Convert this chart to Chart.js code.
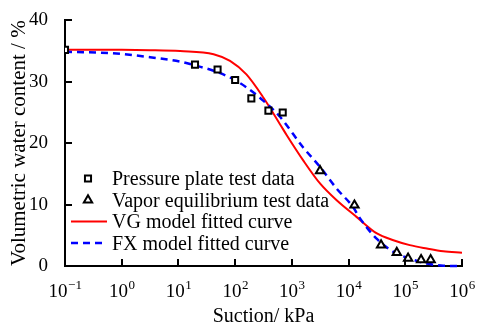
<!DOCTYPE html>
<html><head><meta charset="utf-8">
<script src="https://cdn.jsdelivr.net/npm/chart.js@4.4.0/dist/chart.umd.min.js"></script>
<style>html,body{margin:0;padding:0;background:#fff}#wrap{width:479px;height:329px;position:relative}</style>
</head><body><div id="wrap"><canvas id="c" width="479" height="329" style="width:479px;height:329px"></canvas></div>
<script>
// Data
const pressureSuction = [0.1, 19.6, 49, 100, 193, 386, 690];
const pressureWater   = [35.2, 32.8, 32.0, 30.3, 27.3, 25.3, 25.0];
const vaporSuction = [3140, 12700, 37400, 70800, 112000, 190000, 280000];
const vaporWater   = [15.5, 9.9, 3.4, 2.2, 1.25, 1.0, 1.0];
const vgSuction = [0.1, 1, 3.16, 10.7, 41.7, 81.3, 158, 316, 617, 813, 1585, 3162, 6166, 13800, 31600, 61700, 120000, 240000, 468000, 1000000];
const vgWater   = [35.2, 35.2, 35.15, 35.0, 34.5, 33.4, 31.2, 27.4, 23.1, 21.3, 17.2, 13.4, 10.7, 8.0, 5.3, 4.2, 3.4, 2.85, 2.4, 2.15];
const fxSuction = [0.1, 0.81, 3.16, 10.7, 20.9, 41.7, 81.3, 158, 316, 617, 1585, 3162, 6166, 12000, 15800, 31600, 61700, 120000, 240000, 468000, 1000000];
const fxWater   = [34.9, 34.6, 34.0, 33.3, 32.6, 31.8, 30.7, 29.1, 26.9, 24.3, 19.3, 16.1, 12.6, 9.6, 7.8, 4.4, 2.3, 1.2, 0.4, 0.05, 0];
const xTickValues = [0.1, 1, 10, 100, 1000, 10000, 100000, 1000000];
const xTickExponents = ['\u22121', '0', '1', '2', '3', '4', '5', '6'];
const yTickValues = [0, 10, 20, 30, 40];
const seriesNames = ['Pressure plate test data', 'Vapor equilibrium test data', 'VG model fitted curve', 'FX model fitted curve'];

const FONT = '"Liberation Serif", "Times New Roman", serif';
const pts = (xs, ys) => xs.map((x, i) => ({x, y: ys[i]}));

const innerTicks = {
  id: 'innerTicks',
  afterDraw(chart) {
    const ctx = chart.ctx, xs = chart.scales.x, ys = chart.scales.y;
    ctx.save();
    ctx.strokeStyle = '#000'; ctx.lineWidth = 2;
    xTickValues.forEach(v => {
      const px = Math.round(xs.getPixelForValue(v));
      ctx.beginPath(); ctx.moveTo(px, xs.top); ctx.lineTo(px, xs.top - 7); ctx.stroke();
    });
    yTickValues.forEach(v => {
      const py = Math.round(ys.getPixelForValue(v));
      ctx.beginPath(); ctx.moveTo(ys.right, py); ctx.lineTo(ys.right + 7, py); ctx.stroke();
    });
    // x tick labels: "10" with superscript exponent
    ctx.fillStyle = '#000';
    ctx.textBaseline = 'alphabetic';
    const baseY = xs.top + 31;
    xTickValues.forEach((v, i) => {
      const px = xs.getPixelForValue(v);
      ctx.font = '19px ' + FONT;
      const wb = ctx.measureText('10').width;
      ctx.font = '13px ' + FONT;
      const we = ctx.measureText(xTickExponents[i]).width;
      const start = px - (wb + we) / 2;
      ctx.font = '19px ' + FONT;
      ctx.textAlign = 'left';
      ctx.fillText('10', start, baseY);
      ctx.font = '13px ' + FONT;
      ctx.fillText(xTickExponents[i], start + wb + 0.5, baseY - 8);
    });
    ctx.restore();
  }
};

const legendPlugin = {
  id: 'innerLegend',
  afterDraw(chart) {
    const ctx = chart.ctx;
    const x0 = 71, x1 = 107, mx = 88, tx = 112;
    const baselines = [185, 206.5, 228, 249.5];
    ctx.save();
    ctx.font = '20px ' + FONT;
    ctx.fillStyle = '#000';
    ctx.textBaseline = 'alphabetic';
    chart.data.datasets.forEach((ds, i) => {
      const y = baselines[i] - 6.5;
      if (ds.showLine) {
        ctx.save();
        ctx.strokeStyle = ds.borderColor; ctx.lineWidth = ds.borderWidth;
        ctx.setLineDash(ds.borderDash || []);
        ctx.beginPath(); ctx.moveTo(x0, y); ctx.lineTo(x1, y); ctx.stroke();
        ctx.restore();
      } else {
        ctx.save();
        ctx.strokeStyle = ds.pointBorderColor; ctx.fillStyle = ds.pointBackgroundColor;
        ctx.lineWidth = ds.pointBorderWidth;
        Chart.helpers.drawPoint(ctx, {pointStyle: ds.pointStyle, radius: ds.pointRadius, borderWidth: ds.pointBorderWidth, rotation: 0}, mx, y);
        ctx.restore();
      }
      ctx.fillText(ds.label, tx, baselines[i]);
    });
    ctx.restore();
  }
};

new Chart(document.getElementById('c'), {
  type: 'scatter',
  data: {
    datasets: [
      {label: seriesNames[0], data: pts(pressureSuction, pressureWater), pointStyle: 'rect', pointRadius: 4.3, pointBorderWidth: 2,
       pointBorderColor: '#000', pointBackgroundColor: '#fff', showLine: false, order: 0},
      {label: seriesNames[1], data: pts(vaporSuction, vaporWater), pointStyle: 'triangle', pointRadius: 4.8, pointBorderWidth: 2,
       pointBorderColor: '#000', pointBackgroundColor: '#fff', showLine: false, order: 1},
      {label: seriesNames[2], data: pts(vgSuction, vgWater), showLine: true, borderColor: '#ff0000', borderWidth: 2,
       pointRadius: 0, cubicInterpolationMode: 'monotone', fill: false, order: 3, clip: false},
      {label: seriesNames[3], data: pts(fxSuction, fxWater), showLine: true, borderColor: '#0000ff', borderWidth: 2.5, borderDash: [7, 5],
       pointRadius: 0, cubicInterpolationMode: 'monotone', fill: false, order: 2, clip: false}
    ]
  },
  options: {
    responsive: false, animation: false, devicePixelRatio: 1,
    layout: {padding: {left: 7, right: 17, top: 18, bottom: 0}},
    plugins: {legend: {display: false}, tooltip: {enabled: false}},
    scales: {
      x: {
        type: 'logarithmic', min: 0.1, max: 1000000,
        afterBuildTicks: s => { s.ticks = xTickValues.map(v => ({value: v})); },
        afterFit: s => { s.height = 63; },
        grid: {display: false},
        border: {display: true, color: '#000', width: 2},
        ticks: {display: false},
        title: {display: true, text: 'Suction/ kPa', color: '#000', font: {family: FONT, size: 20}, padding: 0}
      },
      y: {
        min: 0, max: 40,
        afterBuildTicks: s => { s.ticks = yTickValues.map(v => ({value: v})); },
        afterFit: s => { s.width = 58; },
        grid: {display: false},
        border: {display: true, color: '#000', width: 2},
        ticks: {padding: 9, color: '#000', font: {family: FONT, size: 19}},
        title: {display: true, text: 'Volumetric water content / %', color: '#000', font: {family: FONT, size: 21}, padding: 0}
      }
    }
  },
  plugins: [innerTicks, legendPlugin]
});
</script></body></html>
